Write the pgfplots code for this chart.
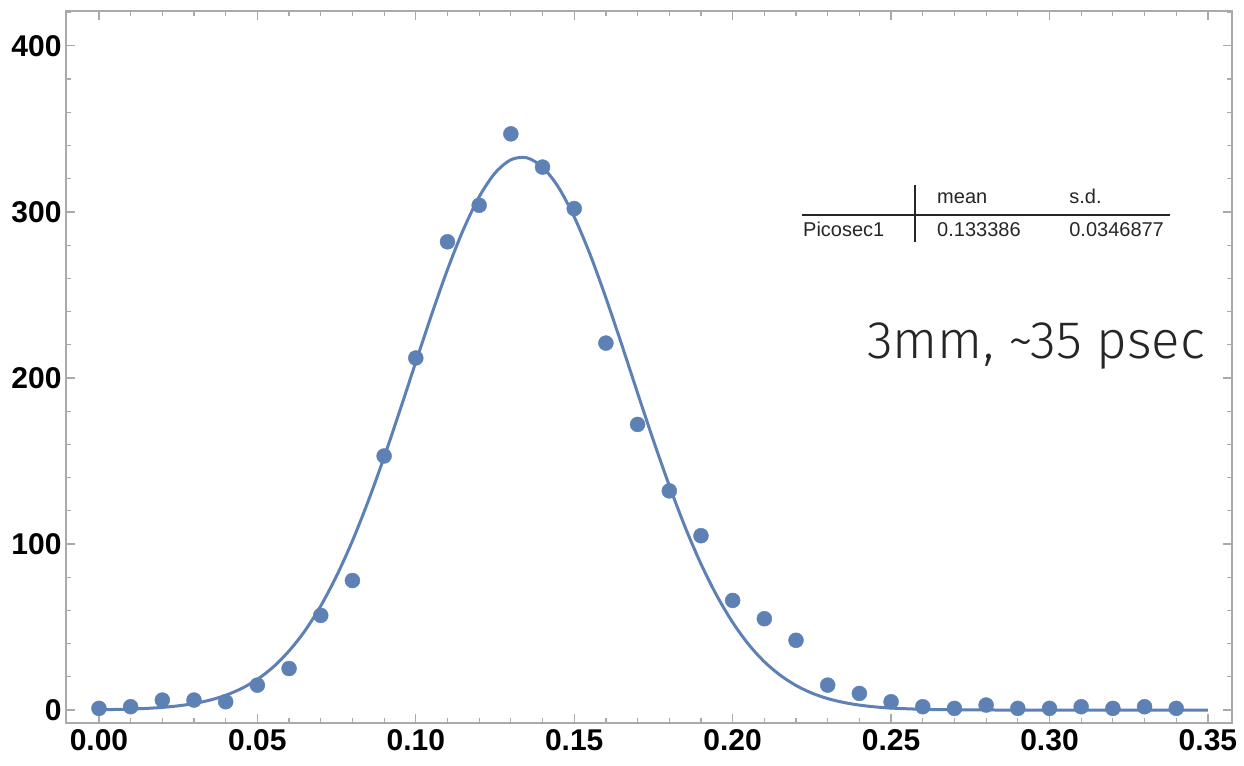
\documentclass[border=0pt]{standalone}
\usepackage{fontspec}
\setmainfont{Liberation Sans}
\IfFontExistsTF{Fira Sans Light}{\newfontfamily\lightfont{Fira Sans Light}}{\newfontfamily\lightfont{Liberation Sans}}
\usepackage{pgfplots}
\pgfplotsset{compat=1.18}
\definecolor{mblue}{RGB}{94,129,181}
\definecolor{framegray}{RGB}{170,170,170}
\begin{document}
\begin{tikzpicture}
\begin{axis}[
  scale only axis,
  width=1166pt, height=712pt,
  xmin=-0.0104, xmax=0.3576,
  ymin=-7.8, ymax=421,
  axis line style={framegray, line width=1.5pt},
  every tick/.style={framegray, line width=1.2pt},
  tick align=inside,
  major tick length=9pt, minor tick length=5pt,
  xtick={0,0.05,...,0.35},
  minor xtick={0.01,0.02,...,0.35},
  ytick={0,100,200,300,400},
  minor ytick={20,40,...,420},
  xticklabel style={/pgf/number format/fixed, /pgf/number format/fixed zerofill, /pgf/number format/precision=2, yshift=-3pt},
  /pgf/number format/assume math mode=true,
  tick label style={font=\fontsize{30}{32}\selectfont\bfseries, black},
  yticklabel style={xshift=-1pt},
  clip=false,
]
\addplot[mblue, line width=3pt, smooth] coordinates {
(0.000,0.21)(0.005,0.35)(0.010,0.60)(0.015,0.99)(0.020,1.60)(0.025,2.53)
(0.030,3.93)(0.035,5.97)(0.040,8.89)(0.045,12.97)(0.050,18.5)(0.055,25.9)
(0.060,35.6)(0.065,47.7)(0.070,62.7)(0.075,80.8)(0.080,101.9)(0.085,125.9)
(0.090,152.3)(0.095,180.5)(0.100,209.6)(0.105,238.2)(0.110,265.3)(0.115,289.3)
(0.120,309.1)(0.125,323.4)(0.130,331.4)(0.135,332.6)(0.140,327.0)(0.145,314.9)
(0.150,297.0)(0.155,274.4)(0.160,248.2)(0.165,220.0)(0.170,190.9)(0.175,162.3)
(0.180,135.2)(0.185,110.2)(0.190,88.0)(0.195,68.9)(0.200,52.8)(0.205,39.6)
(0.210,29.1)(0.215,21.0)(0.220,14.8)(0.225,10.2)(0.230,6.91)(0.235,4.58)
(0.240,2.97)(0.245,1.89)(0.250,1.18)(0.260,0.43)(0.270,0.14)(0.280,0.04)
(0.290,0.01)(0.300,0)(0.320,0)(0.350,0)
};
\addplot[only marks, mark=*, mark size=7.5pt, mark options={fill=mblue, draw=mblue}] coordinates {
(0.00,1)(0.01,2)(0.02,6)(0.03,6)(0.04,5)(0.05,15)(0.06,25)(0.07,57)(0.08,78)
(0.09,153)(0.10,212)(0.11,282)(0.12,304)(0.13,347)(0.14,327)(0.15,302)(0.16,221)
(0.17,172)(0.18,132)(0.19,105)(0.20,66)(0.21,55)(0.22,42)(0.23,15)(0.24,10)
(0.25,5)(0.26,2)(0.27,1)(0.28,3)(0.29,1)(0.30,1)(0.31,2)(0.32,1)(0.33,2)(0.34,1)
};
% statistics table
\draw[black!85, line width=2pt] (axis cs:0.2218,298) -- (axis cs:0.3380,298);
\draw[black!85, line width=2pt] (axis cs:0.2575,316) -- (axis cs:0.2575,282);
\node[anchor=base west, font=\fontsize{20}{22}\selectfont, inner sep=0pt, black!85] at (axis cs:0.2645,305) {mean};
\node[anchor=base west, font=\fontsize{20}{22}\selectfont, inner sep=0pt, black!85] at (axis cs:0.3062,305) {s.d.};
\node[anchor=base west, font=\fontsize{20}{22}\selectfont, inner sep=0pt, black!85] at (axis cs:0.2222,285) {Picosec1};
\node[anchor=base west, font=\fontsize{20}{22}\selectfont, inner sep=0pt, black!85] at (axis cs:0.2645,285) {0.133386};
\node[anchor=base west, font=\fontsize{20}{22}\selectfont, inner sep=0pt, black!85] at (axis cs:0.3062,285) {0.0346877};
\node[anchor=base east, inner sep=0pt, black!85] at (axis cs:0.3492,212) {\resizebox{338pt}{!}{\lightfont\fontsize{48}{50}\selectfont 3mm, \textasciitilde35 psec}};
\end{axis}
\pgfresetboundingbox
\path ([xshift=-66pt,yshift=-43pt]current axis.south west) rectangle ([xshift=12pt,yshift=11pt]current axis.north east);
\end{tikzpicture}
\end{document}
